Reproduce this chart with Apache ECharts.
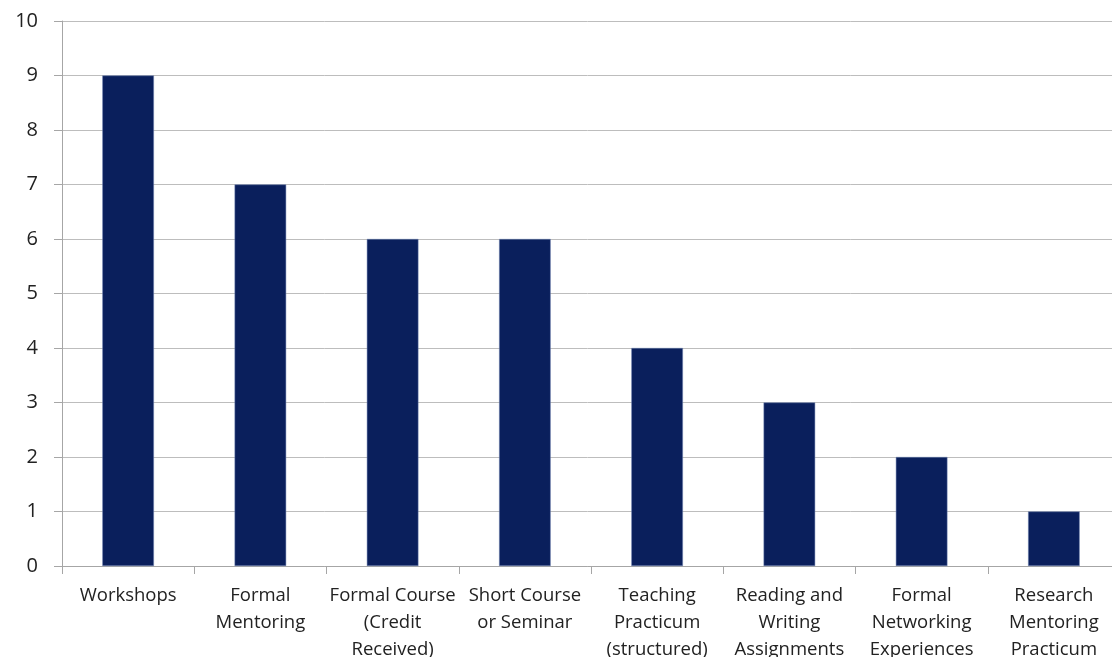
<!DOCTYPE html>
<html>
<head>
<meta charset="utf-8">
<script src="https://cdn.jsdelivr.net/npm/echarts@6/dist/echarts.min.js"></script>
<style>
  html, body { margin: 0; padding: 0; background: #fff; }
  #chart { width: 1112px; height: 657px; }
</style>
</head>
<body>
<div id="chart"></div>
<script>
const categories = [
  'Workshops',
  'Formal\nMentoring',
  'Formal Course\n(Credit\nReceived)',
  'Short Course\nor Seminar',
  'Teaching\nPracticum\n(structured)',
  'Reading and\nWriting\nAssignments',
  'Formal\nNetworking\nExperiences',
  'Research\nMentoring\nPracticum'
]
const counts = [9, 7, 6, 6, 4, 3, 2, 1]
const yTicks = { min: 0, max: 10, interval: 1 }

const myChart = echarts.init(document.getElementById('chart'))
myChart.setOption({
  animation: false,
  grid: { left: 62, right: -8, top: 21, bottom: 91, outerBoundsMode: 'none', containLabel: false },
  xAxis: {
    type: 'category',
    data: categories,
    axisLine: { lineStyle: { color: '#a6a6a6', width: 1 } },
    axisTick: { show: true, length: 8, lineStyle: { color: '#a6a6a6' } },
    axisLabel: {
      interval: 0,
      color: '#222',
      fontFamily: 'Open Sans',
      fontSize: 18.5,
      lineHeight: 27,
      margin: 16
    }
  },
  yAxis: {
    type: 'value',
    min: yTicks.min,
    max: yTicks.max,
    interval: yTicks.interval,
    axisLine: { show: true, lineStyle: { color: '#a6a6a6' } },
    axisTick: { show: true, length: 8, lineStyle: { color: '#a6a6a6' } },
    splitLine: { lineStyle: { color: '#bdbdbd', width: 1 } },
    axisLabel: {
      color: '#222',
      fontFamily: 'Open Sans',
      fontSize: 20,
      margin: 24
    }
  },
  series: [
    {
      type: 'bar',
      data: counts,
      barWidth: '39%',
      itemStyle: { color: '#0a1f5c', borderColor: '#6f82b0', borderWidth: 0.5 }
    }
  ]
})
</script>
</body>
</html>
